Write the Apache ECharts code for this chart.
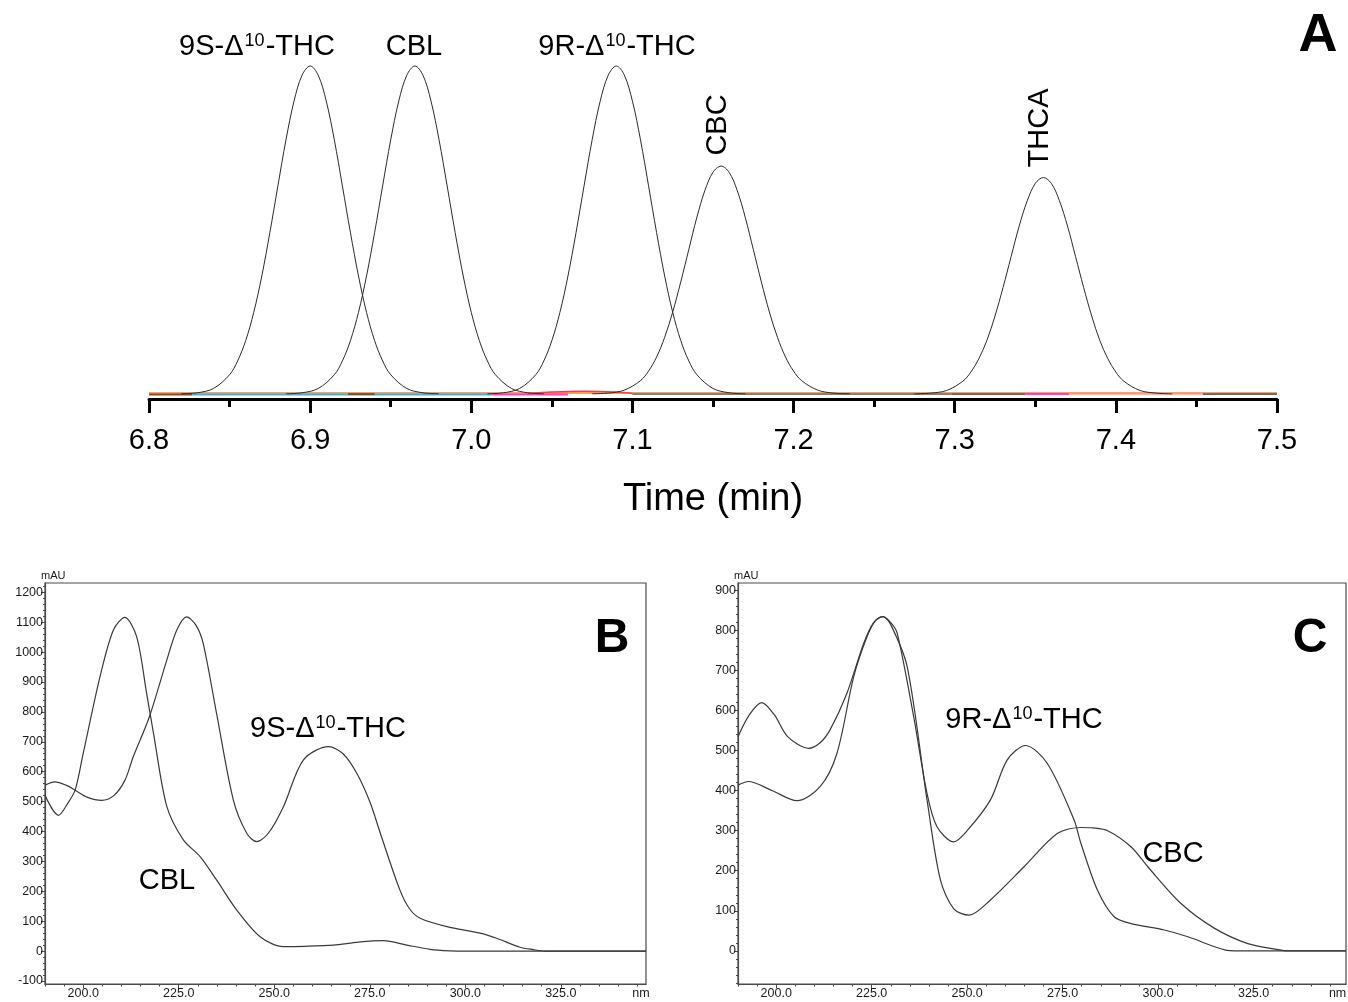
<!DOCTYPE html>
<html><head><meta charset="utf-8">
<script src="https://cdn.jsdelivr.net/npm/echarts@6/dist/echarts.min.js"></script>
<style>html,body{margin:0;padding:0;background:#fff}#c{width:1348px;height:1002px}</style>
</head><body><div id="c"></div>
<script>
// ---------- Panel A : chromatogram (time in min, relative height) ----------
const peak9S_t = [6.82,6.83,6.84,6.85,6.855,6.86,6.865,6.87,6.875,6.88,6.885,6.89,6.895,6.90,6.905,6.91,6.915,6.92,6.925,6.93,6.935,6.94,6.945,6.95,6.96,6.97,6.98];
const peak9S_v = [0.1,0.4,1.7,5.9,10.1,16.3,24.9,36.0,49.2,63.5,77.5,89.3,97.2,100,97.2,89.3,77.5,63.5,49.2,36.0,24.9,16.3,10.1,5.9,1.7,0.4,0.1];
const peakCBL_t = [6.885,6.895,6.905,6.915,6.92,6.925,6.93,6.935,6.94,6.945,6.95,6.955,6.96,6.965,6.97,6.975,6.98,6.985,6.99,6.995,7.00,7.005,7.01,7.015,7.025,7.035,7.045];
const peakCBL_v = [0.1,0.4,1.7,5.9,10.1,16.3,24.9,36.0,49.2,63.5,77.5,89.3,97.2,100,97.2,89.3,77.5,63.5,49.2,36.0,24.9,16.3,10.1,5.9,1.7,0.4,0.1];
const peak9R_t = [7.01,7.02,7.03,7.04,7.045,7.05,7.055,7.06,7.065,7.07,7.075,7.08,7.085,7.09,7.095,7.10,7.105,7.11,7.115,7.12,7.125,7.13,7.135,7.14,7.15,7.16,7.17];
const peak9R_v = [0.1,0.4,1.7,5.9,10.1,16.3,24.9,36.0,49.2,63.5,77.5,89.3,97.2,100,97.2,89.3,77.5,63.5,49.2,36.0,24.9,16.3,10.1,5.9,1.7,0.4,0.1];
const peakCBC_t = [7.075,7.085,7.095,7.105,7.11,7.115,7.12,7.125,7.13,7.135,7.14,7.145,7.15,7.155,7.16,7.165,7.17,7.175,7.18,7.185,7.19,7.195,7.20,7.205,7.215,7.225,7.235];
const peakCBC_v = [0.1,0.3,1.2,4.1,7.0,11.3,17.3,25.0,34.2,44.1,53.9,62.1,67.6,69.5,67.6,62.1,53.9,44.1,34.2,25.0,17.3,11.3,7.0,4.1,1.2,0.3,0.1];
const peakTHCA_t = [7.275,7.285,7.295,7.305,7.31,7.315,7.32,7.325,7.33,7.335,7.34,7.345,7.35,7.355,7.36,7.365,7.37,7.375,7.38,7.385,7.39,7.395,7.40,7.405,7.415,7.425,7.435];
const peakTHCA_v = [0.05,0.3,1.1,3.9,6.7,10.8,16.4,23.8,32.5,41.9,51.2,58.9,64.2,66,64.2,58.9,51.2,41.9,32.5,23.8,16.4,10.8,6.7,3.9,1.1,0.3,0.05];
// other wavelength traces visible at the baseline
const baseOrange_t = [6.8, 7.5];           const baseOrange_v = [0.3, 0.3];
const baseBrown1_t = [6.8, 6.827];         const baseBrown1_v = [-0.1, -0.1];
const baseBlue_t   = [6.827, 7.013];       const baseBlue_v   = [-0.1, -0.1];
const baseBrown2_t = [6.9235, 6.940];      const baseBrown2_v = [0, 0];
const basePink1_t  = [7.013, 7.060];       const basePink1_v  = [-0.1, -0.1];
const baseRed_t    = [7.035, 7.05, 7.07, 7.09, 7.10]; const baseRed_v = [0.1, 0.6, 0.9, 0.6, 0.2];
const baseGrey_t   = [7.10, 7.298];        const baseGrey_v   = [0, 0];
const baseBrown3_t = [7.298, 7.344];       const baseBrown3_v = [0, 0];
const basePink2_t  = [7.344, 7.371];       const basePink2_v  = [0, 0];
const baseSalmon_t = [7.371, 7.454];       const baseSalmon_v = [0.1, 0.1];
const baseBlack_t  = [7.454, 7.5];         const baseBlack_v  = [0, 0];

// ---------- Panel B : UV spectra (nm, mAU) ----------
const B_CBL_nm = [190,193.5,196,197.9,200,204.4,207.9,210.9,214,216.6,218.4,221.9,226.2,230.6,234.9,240.2,246.3,252.4,258,265.5,272,278.6,284.7,290.8,296,300,347.3];
const B_CBL_v  = [521,454,495,539,661,918,1074,1116,1051,862,728,483,372,316,238,137,48,15,16,20,30,35,20,6,1,0,0];
const B_9S_nm  = [190,192.6,195.5,197.9,201,204.8,208,210.9,213.1,217.3,221.9,224.5,227.1,229.5,231.4,234.9,239.3,242.8,245.4,248.5,252.4,257.6,264.2,268,271.6,275,278,282.9,285.5,288.2,295.2,303.9,308.2,314.3,317.8,321,347.3];
const B_9S_v   = [555,566,555,538,515,504,520,571,650,783,974,1074,1118,1090,1029,795,505,394,366,395,483,639,684,660,595,500,385,204,140,110,82,60,43,13,5,0,0];

// ---------- Panel C : UV spectra (nm, mAU) ----------
const C_9R_nm  = [190,193,196.2,199.5,203,208.5,211.5,214.1,218.5,222.9,225.5,227.8,230,231.7,236,239.5,242.1,246.5,250,256.1,260.5,265.3,271,278,279.8,284.1,288.5,292.9,301.6,307.8,314.8,318,320,349.2];
const C_9R_v   = [535,590,620,590,535,506,520,552,643,768,820,835,820,793,585,393,310,272,300,377,477,513,468,327,268,152,85,68,52,35,10,1,0,0];
const C_CBC_nm = [190,192.7,199,205.4,211.5,215.9,220.3,223.8,226,228,230,234.3,239.5,243,246.5,250.5,256.1,264.9,273.6,279.8,283,286.8,292.9,297.3,306,314.8,323.5,331.4,334,349.2];
const C_CBC_v  = [414,423,400,375,410,493,685,785,825,835,815,710,377,177,105,89,127,210,293,308,307,300,260,210,118,56,18,3,0,0];

// ---------- tick labels ----------
const A_xTicks = [6.8,6.9,7.0,7.1,7.2,7.3,7.4,7.5];
const B_yLabels = [-100,0,100,200,300,400,500,600,700,800,900,1000,1100,1200];
const C_yLabels = [0,100,200,300,400,500,600,700,800,900];
const BC_xLabels = [200,225,250,275,300,325];
const B_nmPos = 346;
const C_nmPos = 347;

// ---------- build ----------
const zip = (a, b) => a.map((x, i) => [x, b[i]]);
const range = (s, e, st) => { const r = []; for (let v = s; v <= e + 1e-9; v += st) r.push(+v.toFixed(3)); return r; };

const FONT = '"Liberation Sans", Arial, "Helvetica", sans-serif';
const FRAME = '#4a4a4a';
const TXT = '#1a1a1a';

function peakSeries(t, v) {
  return { type: 'line', xAxisIndex: 0, yAxisIndex: 0, data: zip(t, v), smooth: 0.35,
    showSymbol: false, symbol: 'none', clip: false, z: 4, silent: true,
    lineStyle: { color: '#2b2b2b', width: 1 } };
}
function baseSeries(t, v, color, w) {
  return { type: 'line', xAxisIndex: 0, yAxisIndex: 0, data: zip(t, v), showSymbol: false, symbol: 'none',
    clip: false, z: 3, silent: true, smooth: 0.3, lineStyle: { color: color, width: w || 2 } };
}
function specSeries(nm, v, xi, yi) {
  return { type: 'line', xAxisIndex: xi, yAxisIndex: yi, data: zip(nm, v), smooth: 0.3,
    showSymbol: false, symbol: 'none', clip: true, z: 4, silent: true,
    lineStyle: { color: '#3a3a3a', width: 1.2 } };
}

function mainX(grid, min, max, nmPos) {
  return { gridIndex: grid, type: 'value', min: min, max: max, position: 'bottom',
    axisLine: { show: true, onZero: false, lineStyle: { color: FRAME, width: 1.2 } },
    axisTick: { show: true, customValues: BC_xLabels, length: 4, lineStyle: { color: FRAME } },
    axisLabel: { show: true, customValues: BC_xLabels.concat([nmPos]), margin: 3, fontSize: 12.5, fontFamily: FONT, color: TXT,
      formatter: v => (v > 340 ? 'nm' : Number(v).toFixed(1)) },
    splitLine: { show: false } };
}
function minorX(grid, min, max) {
  return { gridIndex: grid, type: 'value', min: min, max: max, position: 'bottom', offset: 0,
    axisLine: { show: false, onZero: false }, axisLabel: { show: false }, splitLine: { show: false },
    axisTick: { show: true, customValues: range(190, 345, 5).filter(v => v >= min && v <= max), length: 2.5, lineStyle: { color: FRAME } } };
}
function mainY(grid, min, max, labels) {
  return { gridIndex: grid, type: 'value', min: min, max: max, position: 'left',
    name: 'mAU', nameLocation: 'end', nameGap: 2,
    nameTextStyle: { fontSize: 11, fontFamily: FONT, color: TXT, align: 'left', padding: [0, 0, 0, -4] },
    axisLine: { show: true, onZero: false, lineStyle: { color: FRAME, width: 1.2 } },
    axisTick: { show: true, customValues: labels, length: 4, lineStyle: { color: FRAME } },
    axisLabel: { show: true, customValues: labels, margin: 2, fontSize: 12.5, fontFamily: FONT, color: TXT,
      formatter: v => String(v) },
    splitLine: { show: false } };
}
function minorY(grid, min, max, start, end) {
  return { gridIndex: grid, type: 'value', min: min, max: max, position: 'left', offset: 0,
    axisLine: { show: false, onZero: false }, axisLabel: { show: false }, splitLine: { show: false },
    axisTick: { show: true, customValues: range(start, end, 20), length: 2, lineStyle: { color: FRAME } } };
}

function label(x, y, text, opts) {
  opts = opts || {};
  return { type: 'text', x: x, y: y, rotation: opts.rot || 0, z: 10, silent: true,
    style: { text: text, fontSize: opts.size || 29, fontWeight: opts.weight || 'normal', fontFamily: FONT, fill: '#000',
      align: 'center', verticalAlign: 'middle',
      rich: { sup: { fontSize: 18, fontFamily: FONT, fill: '#000', verticalAlign: 'top', padding: [0, 1, 0, 1] } } } };
}

const option = {
  animation: false,
  backgroundColor: '#fff',
  grid: [
    { left: 149, right: 71, top: 66, height: 333, outerBoundsMode: 'none' },
    { left: 45, top: 583, width: 601, height: 401, show: true, borderColor: FRAME, borderWidth: 1.2, outerBoundsMode: 'none' },
    { left: 738, top: 583, width: 608, height: 401, show: true, borderColor: FRAME, borderWidth: 1.2, outerBoundsMode: 'none' }
  ],
  xAxis: [
    { gridIndex: 0, type: 'value', min: A_xTicks[0], max: A_xTicks[A_xTicks.length - 1], interval: 0.1, position: 'bottom',
      axisLine: { show: true, onZero: false, lineStyle: { color: '#000', width: 3 } },
      axisTick: { show: true, length: 14, lineStyle: { color: '#000', width: 3 } },
      minorTick: { show: true, splitNumber: 2, length: 8, lineStyle: { color: '#000', width: 3 } },
      axisLabel: { fontSize: 29, fontFamily: FONT, color: '#000', margin: 27, formatter: v => Number(v).toFixed(1) },
      splitLine: { show: false }, minorSplitLine: { show: false },
      name: 'Time (min)', nameLocation: 'middle', nameGap: 82,
      nameTextStyle: { fontSize: 38, fontFamily: FONT, color: '#000' } },
    mainX(1, 190, 347.3, B_nmPos),
    minorX(1, 190, 347.3),
    mainX(2, 190, 349.2, C_nmPos),
    minorX(2, 190, 349.2)
  ],
  yAxis: [
    { gridIndex: 0, type: 'value', min: -1.5, max: 100, show: false, splitLine: { show: false } },
    mainY(1, -110, 1231, B_yLabels),
    minorY(1, -110, 1231, -100, 1220),
    mainY(2, -83, 919, C_yLabels),
    minorY(2, -83, 919, -80, 900)
  ],
  series: [
    baseSeries(baseOrange_t, baseOrange_v, '#f8a15e', 2),
    baseSeries(baseBrown1_t, baseBrown1_v, '#8a4a2a', 2),
    baseSeries(baseBlue_t, baseBlue_v, '#3cb2e4', 2),
    baseSeries(baseBrown2_t, baseBrown2_v, '#8a4a2a', 2),
    baseSeries(basePink1_t, basePink1_v, '#ff3cc8', 2),
    baseSeries(baseRed_t, baseRed_v, '#ff3a3a', 1.5),
    baseSeries(baseGrey_t, baseGrey_v, '#555555', 1.2),
    baseSeries(baseBrown3_t, baseBrown3_v, '#806458', 2),
    baseSeries(basePink2_t, basePink2_v, '#ff3cc8', 2),
    baseSeries(baseSalmon_t, baseSalmon_v, '#ff9a80', 2),
    baseSeries(baseBlack_t, baseBlack_v, '#333333', 1.2),
    peakSeries(peak9S_t, peak9S_v),
    peakSeries(peakCBL_t, peakCBL_v),
    peakSeries(peak9R_t, peak9R_v),
    peakSeries(peakCBC_t, peakCBC_v),
    peakSeries(peakTHCA_t, peakTHCA_v),
    specSeries(B_CBL_nm, B_CBL_v, 1, 1),
    specSeries(B_9S_nm, B_9S_v, 1, 1),
    specSeries(C_9R_nm, C_9R_v, 3, 3),
    specSeries(C_CBC_nm, C_CBC_v, 3, 3)
  ],
  graphic: [
    label(257, 47, '9S-Δ{sup|10}-THC'),
    label(414, 47, 'CBL'),
    label(617, 47, '9R-Δ{sup|10}-THC'),
    label(718, 125, 'CBC', { rot: Math.PI / 2 }),
    label(1040, 128, 'THCA', { rot: Math.PI / 2 }),
    label(1318, 36, 'A', { size: 54, weight: 'bold' }),
    label(328, 729, '9S-Δ{sup|10}-THC'),
    label(167, 881, 'CBL'),
    label(612, 639, 'B', { size: 48, weight: 'bold' }),
    label(1024, 720, '9R-Δ{sup|10}-THC'),
    label(1173, 854, 'CBC'),
    label(1310, 639, 'C', { size: 48, weight: 'bold' })
  ]
};

const chart = echarts.init(document.getElementById('c'), null, { renderer: 'canvas' });
chart.setOption(option);
</script></body></html>
